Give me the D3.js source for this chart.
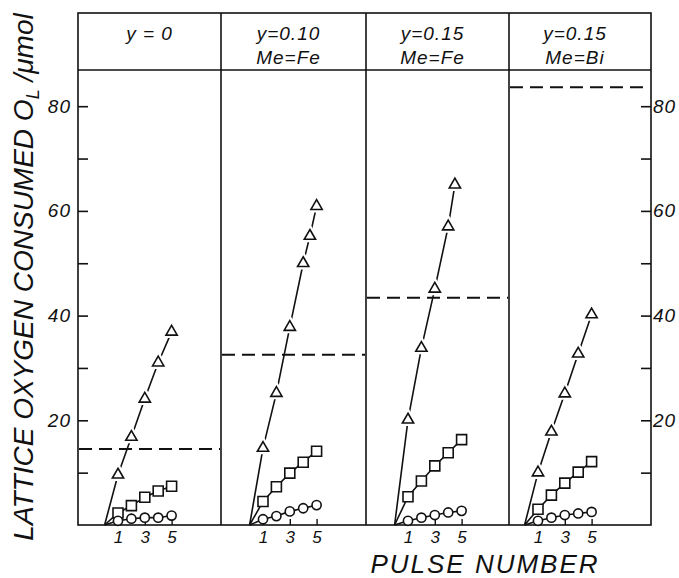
<!DOCTYPE html>
<html>
<head>
<meta charset="utf-8">
<script src="https://cdn.jsdelivr.net/npm/d3@7"></script>
<style>
  body { margin: 0; background: #fff; }
  text { font-family: "Liberation Sans", Arial, sans-serif; font-style: italic; fill: #111; }
</style>
</head>
<body>
<svg width="679" height="578"></svg>
<script>

// panel headers (two lines, second may be empty)
var headLine1 = ["y = 0", "y=0.10", "y=0.15", "y=0.15"];
var headLine2 = ["", "Me=Fe", "Me=Fe", "Me=Bi"];

// pulse numbers
var triPulses = [
  [1, 2, 3, 4, 5],
  [1, 2, 3, 4, 4.5, 5],
  [1, 2, 3, 4, 4.5],
  [1, 2, 3, 4, 5]
];
var pulses = [1, 2, 3, 4, 5];

// triangles
var triValues = [
  [9.6, 16.8, 24.1, 31.0, 36.9],
  [14.7, 25.2, 37.8, 50.0, 55.2, 60.9],
  [20.1, 33.8, 45.1, 57.0, 65.0],
  [10.0, 17.8, 25.1, 32.7, 40.2]
];

// squares
var sqValues = [
  [2.3, 3.7, 5.3, 6.5, 7.4],
  [4.5, 7.3, 9.9, 12.0, 14.1],
  [5.4, 8.4, 11.3, 13.8, 16.3],
  [3.0, 5.7, 8.0, 10.1, 12.1]
];

// circles
var circValues = [
  [0.8, 1.2, 1.4, 1.4, 1.8],
  [1.1, 1.7, 2.6, 3.2, 3.8],
  [0.8, 1.4, 1.9, 2.4, 2.7],
  [0.8, 1.4, 1.9, 2.2, 2.5]
];

// dashed reference level per panel
var dashLevel = [14.5, 32.5, 43.4, 83.6];

var yTicks = [10, 20, 30, 40, 50, 60, 70, 80];
var xTicks = [1, 3, 5];

var svg = d3.select("svg");

// frame geometry
var leftX = 78, rightX = 651, topY = 13, headBottom = 70, bottomY = 525;
var panelEdges = [78, 221, 366, 509, 651];
// where pulse 0 sits in each panel
var pulseZero = [104.6, 249.6, 394.6, 524.6];
var pulseStep = 13.4;

var y = d3.scaleLinear()
    .domain([0, 87])
    .range([bottomY, bottomY - 87 * 5.235]);

var frame = svg.append("g")
    .attr("stroke", "#111")
    .attr("stroke-width", 1.6)
    .attr("fill", "none");

frame.append("rect")
    .attr("x", leftX)
    .attr("y", topY)
    .attr("width", rightX - leftX)
    .attr("height", bottomY - topY);

frame.append("line")
    .attr("x1", leftX).attr("x2", rightX)
    .attr("y1", headBottom).attr("y2", headBottom);

frame.selectAll(".divider")
    .data(panelEdges.slice(1, 4))
    .enter()
    .append("line")
    .attr("x1", function(d) { return d; })
    .attr("x2", function(d) { return d; })
    .attr("y1", topY)
    .attr("y2", bottomY);

// left y axis, ticks inward
var yAxisLeft = d3.axisLeft(y)
    .tickValues(yTicks)
    .tickSize(-10)
    .tickPadding(7)
    .tickFormat(function(d) { return d % 20 === 0 ? d : ""; });

var gl = svg.append("g")
    .attr("transform", "translate(" + leftX + ",0)")
    .call(yAxisLeft);

// right y axis, ticks inward
var yAxisRight = d3.axisRight(y)
    .tickValues(yTicks)
    .tickSize(-10)
    .tickPadding(2)
    .tickFormat(function(d) { return d % 20 === 0 ? d : ""; });

var gr = svg.append("g")
    .attr("transform", "translate(" + rightX + ",0)")
    .call(yAxisRight);

[gl, gr].forEach(function(g) {
  g.attr("font-family", null);
  g.select(".domain").remove();
  g.selectAll(".tick line").attr("stroke", "#111").attr("stroke-width", 1.6);
  g.selectAll(".tick text")
    .attr("font-size", 19)
    .attr("letter-spacing", 1);
});

var symTri = d3.symbol().type(d3.symbolTriangle).size(55);
var symSq = d3.symbol().type(d3.symbolSquare).size(100);
var symCirc = d3.symbol().type(d3.symbolCircle).size(66);

// draw one series: line from origin, then markers with white halo
function drawSeries(g, x, xs, ys, sym, halo) {
  var pts = [[0, 0]];
  xs.forEach(function(p, i) { pts.push([p, ys[i]]); });

  var line = d3.line()
      .x(function(d) { return x(d[0]); })
      .y(function(d) { return y(d[1]); });

  g.append("path")
    .attr("d", line(pts))
    .attr("fill", "none")
    .attr("stroke", "#111")
    .attr("stroke-width", 1.6);

  var marks = pts.slice(1);

  if (halo > 0) {
    g.selectAll(null)
      .data(marks)
      .enter()
      .append("path")
      .attr("d", sym)
      .attr("transform", function(d) { return "translate(" + x(d[0]) + "," + y(d[1]) + ")"; })
      .attr("fill", "#fff")
      .attr("stroke", "#fff")
      .attr("stroke-width", halo);
  }

  g.selectAll(null)
    .data(marks)
    .enter()
    .append("path")
    .attr("d", sym)
    .attr("transform", function(d) { return "translate(" + x(d[0]) + "," + y(d[1]) + ")"; })
    .attr("fill", "#fff")
    .attr("stroke", "#111")
    .attr("stroke-width", 1.6);
}

for (var i = 0; i < 4; i++) {

  var x = d3.scaleLinear()
      .domain([0, 5])
      .range([pulseZero[i], pulseZero[i] + 5 * pulseStep]);

  var g = svg.append("g");

  // dashed level across the panel
  g.append("line")
    .attr("x1", panelEdges[i] + 1)
    .attr("x2", panelEdges[i + 1] - 1)
    .attr("y1", y(dashLevel[i]))
    .attr("y2", y(dashLevel[i]))
    .attr("stroke", "#111")
    .attr("stroke-width", 2)
    .attr("stroke-dasharray", "13,7");

  // x axis ticks for this panel
  var xAxis = d3.axisBottom(x)
      .tickValues(xTicks)
      .tickSize(-6)
      .tickPadding(6)
      .tickFormat(d3.format("d"));

  var gx = g.append("g")
      .attr("transform", "translate(0," + bottomY + ")")
      .call(xAxis)
      .attr("font-family", null);
  gx.select(".domain").remove();
  gx.selectAll(".tick line").attr("stroke", "#111").attr("stroke-width", 1.4);
  gx.selectAll(".tick text").attr("font-size", 17);

  drawSeries(g, x, triPulses[i], triValues[i], symTri, 6);
  drawSeries(g, x, pulses, sqValues[i], symSq, 0);
  drawSeries(g, x, pulses, circValues[i], symCirc, 0);

  // header text
  var cx = (panelEdges[i] + panelEdges[i + 1]) / 2 - (headLine2[i] ? 5 : 0);
  svg.append("text")
    .attr("x", cx)
    .attr("y", 40)
    .attr("text-anchor", "middle")
    .attr("font-size", 19)
    .attr("letter-spacing", 1)
    .text(headLine1[i]);
  svg.append("text")
    .attr("x", cx)
    .attr("y", 64)
    .attr("text-anchor", "middle")
    .attr("font-size", 19)
    .attr("letter-spacing", 1)
    .text(headLine2[i]);
}

// y axis label
var ylab = svg.append("text")
    .attr("transform", "rotate(-90)")
    .attr("x", -277)
    .attr("y", 33)
    .attr("text-anchor", "middle")
    .attr("font-size", 28);
ylab.append("tspan").text("LATTICE OXYGEN CONSUMED O");
ylab.append("tspan").attr("font-size", 18).attr("dy", 6).text("L");
ylab.append("tspan").attr("dy", -6).text(" /μmol");

// x axis label
svg.append("text")
    .attr("x", 485)
    .attr("y", 573)
    .attr("text-anchor", "middle")
    .attr("font-size", 26)
    .attr("letter-spacing", 2)
    .text("PULSE NUMBER");

</script>
</body>
</html>
